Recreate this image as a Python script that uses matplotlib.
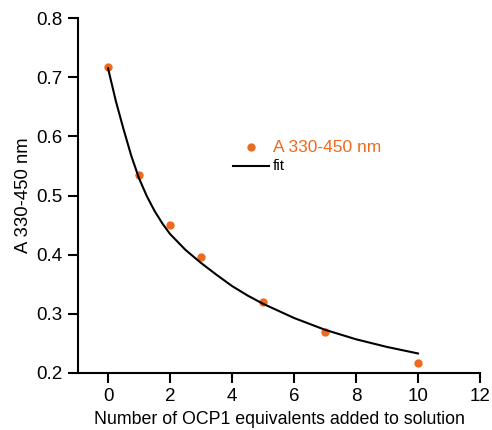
import matplotlib
matplotlib.use("Agg")
import matplotlib.pyplot as plt

plt.rcParams['font.family'] = ['Liberation Sans', 'DejaVu Sans']

# Data
eq_x = [0, 1, 2, 3, 5, 7, 10]
absorb = [0.718, 0.535, 0.451, 0.396, 0.320, 0.269, 0.217]

fit_x = [0, 0.25, 0.5, 0.75, 1, 1.25, 1.5, 1.75, 2, 2.5, 3, 3.5, 4, 4.5, 5,
         6, 7, 8, 9, 10]
fit_y = [0.715, 0.660, 0.612, 0.567, 0.529, 0.499, 0.474, 0.453, 0.435,
         0.408, 0.386, 0.366, 0.347, 0.331, 0.317, 0.293, 0.273, 0.257,
         0.244, 0.233]

x_ticks = [0, 2, 4, 6, 8, 10, 12]
y_ticks = [0.2, 0.3, 0.4, 0.5, 0.6, 0.7, 0.8]

orange = '#EE6A1E'

fig = plt.figure(figsize=(4.92, 4.30), dpi=100)
ax = fig.add_axes([0.1585, 0.1326, 0.8171, 0.8254])

pts, = ax.plot(eq_x, absorb, 'o', color=orange, ms=6, mec='none', label='A 330-450 nm')
fl, = ax.plot(fit_x, fit_y, '-', color='black', lw=1.5, label='fit')

ax.set_xlim(-0.97, 12)
ax.set_ylim(0.2, 0.8)
ax.set_xticks(x_ticks)
ax.set_yticks(y_ticks)
ax.set_yticklabels([f'{v:.1f}' for v in y_ticks])
for s in ['top', 'right']:
    ax.spines[s].set_visible(False)
for s in ['left', 'bottom']:
    ax.spines[s].set_linewidth(1.5)
ax.tick_params(direction='out', length=7, width=1.5, labelsize=13.5, pad=4)

ax.set_xlabel('Number of OCP1 equivalents added to solution', fontsize=12.8, labelpad=4)
ax.set_ylabel('A 330-450 nm', fontsize=13.3, labelpad=3)

leg = ax.legend(handles=[pts, fl], loc='center left',
                bbox_to_anchor=(0.385, 0.61), frameon=False,
                handlelength=2.6, handletextpad=0.3, labelspacing=0.35,
                borderpad=0, borderaxespad=0)
texts = leg.get_texts()
texts[0].set_color(orange)
texts[0].set_fontsize(12.5)
texts[1].set_color('black')
texts[1].set_fontsize(11)

fig.savefig('out.png', dpi=100)
